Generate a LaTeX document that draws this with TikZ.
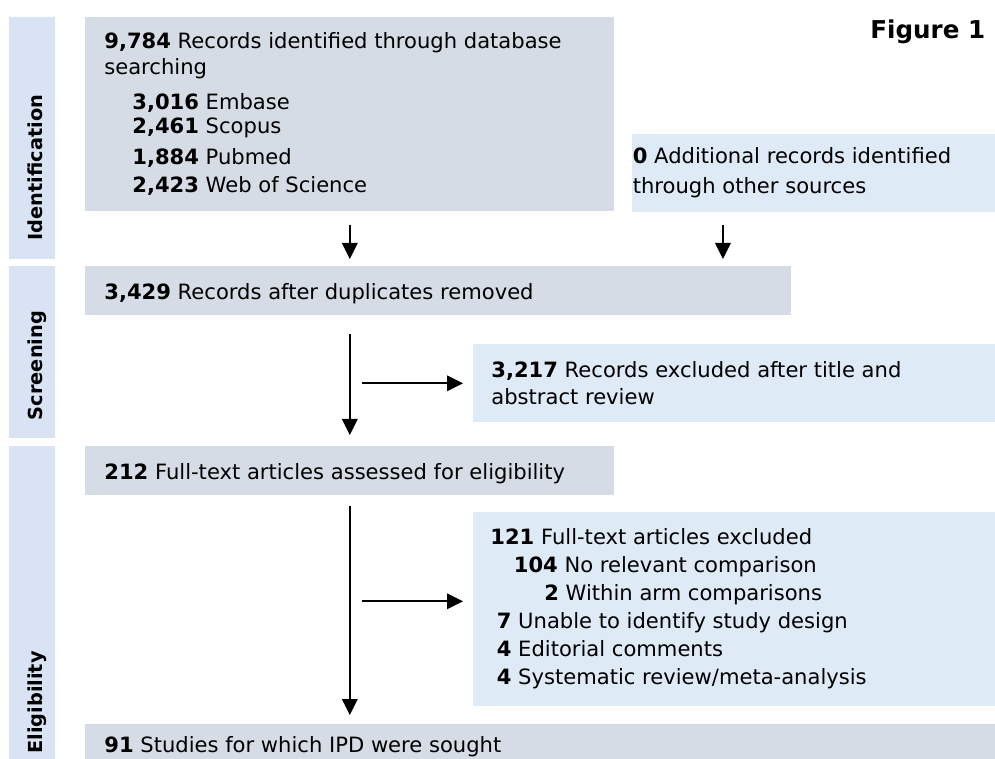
\documentclass[tikz,border=0pt]{standalone}
\usepackage{fontspec}
\setmainfont{DejaVu Sans}
\usepackage{tikz}
\usetikzlibrary{shapes, arrows, arrows.meta, calc}
\usepackage{xcolor}
\definecolor{stagebar}{HTML}{DAE3F3}
\definecolor{mainbox}{HTML}{D6DCE5}
\definecolor{sidebox}{HTML}{DEEBF7}

\begin{document}
\begin{tikzpicture}[x=0.02cm, y=-0.02cm]
        \tikzstyle{bar}=[fill=stagebar, anchor=north west, inner sep=0pt, minimum width=0.92cm]
        \tikzstyle{box}=[fill=mainbox, anchor=north west, inner sep=0pt]
        \tikzstyle{sbox}=[fill=sidebox, anchor=north west, inner sep=0pt]
        % multi-line texts sit on the baseline of their last line
        \tikzstyle{txt}=[anchor=base west, inner sep=0pt, align=left, font=\fontsize{12}{16}\selectfont]
        \tikzstyle{stage}=[rotate=90, anchor=base, inner sep=0pt, font=\fontsize{11}{13}\selectfont\bfseries]
        \tikzstyle{arrow} = [-{Triangle[length=0.32cm, width=0.31cm]}, line width=1pt]

        \clip (0,0) rectangle (995,759);

        % stage bars on the left
        \node[bar, minimum height=4.84cm] (identbar) at (9,17) {};
        \node[bar, minimum height=3.44cm] (screenbar) at (9,266) {};
        \node[bar, minimum height=6.4cm] (eligbar) at (9,446) {};
        \node[stage] (identlabel) at (42.5,167.5) {Identification};
        \node[stage] (screenlabel) at (42.5,365.5) {Screening};
        \node[stage] (eliglabel) at (42.5,702.5) {Eligibility};

        % boxes
        \node[box, minimum width=10.58cm, minimum height=3.88cm] (db) at (85,17) {};
        \node[sbox, minimum width=7.26cm, minimum height=1.56cm] (add) at (632,134) {};
        \node[box, minimum width=14.12cm, minimum height=0.98cm] (screen) at (85,266) {};
        \node[sbox, minimum width=10.44cm, minimum height=1.56cm] (excl1) at (473,344) {};
        \node[box, minimum width=10.58cm, minimum height=0.98cm] (full) at (85,446) {};
        \node[sbox, minimum width=10.44cm, minimum height=3.88cm] (excl2) at (473,512) {};
        \node[box, minimum width=18.2cm, minimum height=1.2cm] (sought) at (85,724) {};

        % texts
        \node[txt] (dbtxt) at (104,193) {\textbf{9,784} Records identified through database\\[-1.2pt]
            searching\\[3.4pt]
            \hspace*{0.56cm}\textbf{3,016} Embase\\[-1.8pt]
            \hspace*{0.56cm}\textbf{2,461} Scopus\\[1.6pt]
            \hspace*{0.56cm}\textbf{1,884} Pubmed\\
            \hspace*{0.56cm}\textbf{2,423} Web of Science};
        \node[txt] (addtxt) at (632.5,193.3) {\textbf{0} Additional records identified\\[1pt]
            through other sources};
        \node[txt] (screentxt) at (104,300) {\textbf{3,429} Records after duplicates removed};
        \node[txt] (excl1txt) at (491,405) {\textbf{3,217} Records excluded after title and\\[-0.6pt]
            abstract review};
        \node[txt] (fulltxt) at (104,480) {\textbf{212} Full-text articles assessed for eligibility};
        \node[txt] (excl2txt) at (490,685) {\textbf{121} Full-text articles excluded\\
            \hspace*{0.47cm}\textbf{104} No relevant comparison\\
            \hspace*{1.08cm}\textbf{2} Within arm comparisons\\
            \hspace*{0.13cm}\textbf{7} Unable to identify study design\\
            \hspace*{0.13cm}\textbf{4} Editorial comments\\
            \hspace*{0.13cm}\textbf{4} Systematic review/meta-analysis};
        \node[txt] (soughttxt) at (104,753) {\textbf{91} Studies for which IPD were sought};

        \node[anchor=base east, inner sep=0pt, font=\fontsize{14}{17}\selectfont\bfseries] (figtitle) at (985.5,39) {Figure 1};

        % connectors
        \coordinate (addout) at ($(add.south west)!0.25!(add.south east)$);
        \coordinate (e2in) at ($(excl2.west)+(0,-8)$);

        \draw[arrow, shorten <=0.26cm, shorten >=0.14cm] (db.south) -- (db.south |- screen.north);
        \draw[arrow, shorten <=0.24cm, shorten >=0.14cm] (addout) -- (addout |- screen.north);
        \draw[arrow, shorten <=0.36cm, shorten >=0.22cm] (db.south |- screen.south) -- (db.south |- full.north);
        \draw[arrow, shorten >=0.2cm] ($(db.south |- excl1.west)+(12,0)$) -- (excl1.west);
        \draw[arrow, shorten <=0.2cm, shorten >=0.18cm] (db.south |- full.south) -- (db.south |- sought.north);
        \draw[arrow, shorten >=0.2cm] ($(db.south |- e2in)+(12,0)$) -- (e2in);
\end{tikzpicture}
\end{document}
